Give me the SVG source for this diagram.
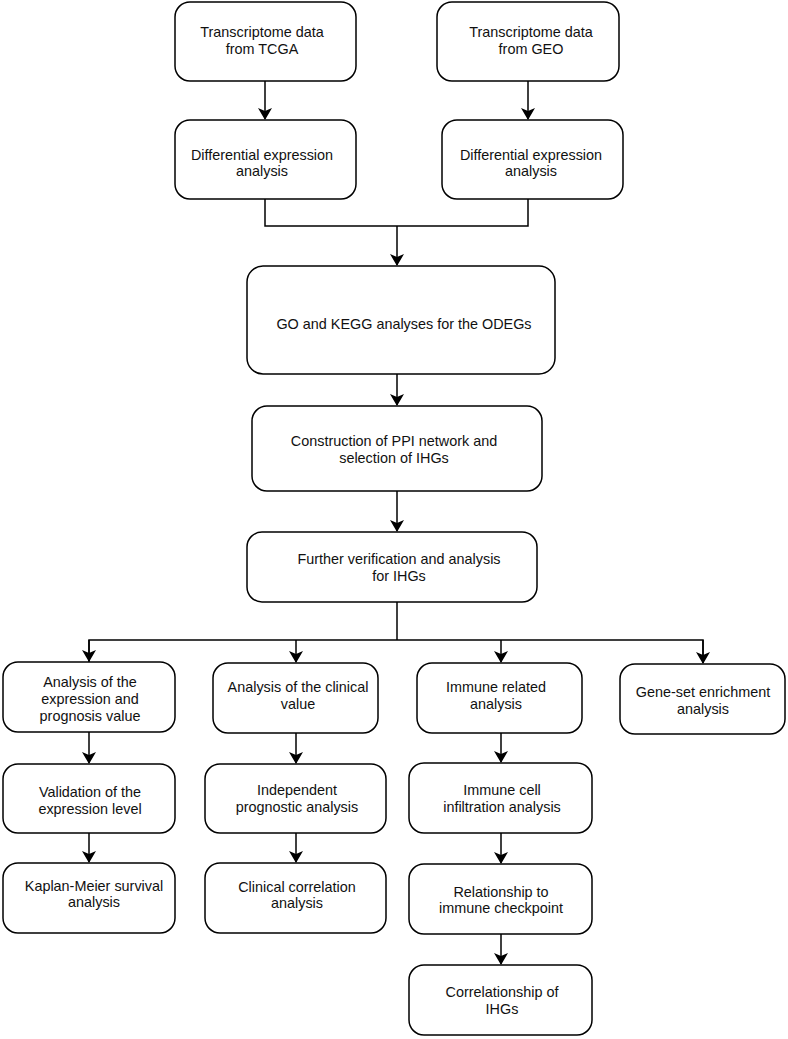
<svg xmlns="http://www.w3.org/2000/svg" width="788" height="1039" viewBox="0 0 788 1039">
<defs>
<style>
rect{fill:#fff;stroke:#000;stroke-width:1.5}
text{font-family:"Liberation Sans",Arial,sans-serif;font-size:14.4px;fill:#111;text-anchor:middle}
.c{fill:none;stroke:#000;stroke-width:1.5}
</style>
<marker id="ah" markerWidth="12" markerHeight="14" refX="11" refY="7" orient="auto" markerUnits="userSpaceOnUse" viewBox="0 0 12 14">
<path d="M0,0 L12,7 L0,14 L3,7 z" fill="#000"/>
</marker>
</defs>
<rect width="788" height="1039" style="fill:#fff;stroke:none"/>
<g id="connectors">
<path class="c" d="M265,81 V119" marker-end="url(#ah)"/>
<path class="c" d="M528,81 V119" marker-end="url(#ah)"/>
<path class="c" d="M265,199 V226 H528 V199"/>
<path class="c" d="M397,226 V265" marker-end="url(#ah)"/>
<path class="c" d="M397,374 V405" marker-end="url(#ah)"/>
<path class="c" d="M397,491 V531" marker-end="url(#ah)"/>
<path class="c" d="M397,602 V640"/>
<path class="c" d="M89,662 V640 H703 V663"/>
<path class="c" d="M89,640 V661" marker-end="url(#ah)"/>
<path class="c" d="M296,640 V662" marker-end="url(#ah)"/>
<path class="c" d="M501,640 V662" marker-end="url(#ah)"/>
<path class="c" d="M703,640 V663" marker-end="url(#ah)"/>
<path class="c" d="M89,732 V763" marker-end="url(#ah)"/>
<path class="c" d="M89,833 V862" marker-end="url(#ah)"/>
<path class="c" d="M296,733 V763" marker-end="url(#ah)"/>
<path class="c" d="M296,833 V862" marker-end="url(#ah)"/>
<path class="c" d="M501,733 V762" marker-end="url(#ah)"/>
<path class="c" d="M501,833 V863" marker-end="url(#ah)"/>
<path class="c" d="M501,934 V964" marker-end="url(#ah)"/>
</g>
<g id="n_tcga"><rect x="175" y="2" width="181" height="79" rx="15"/><text x="262" y="37">Transcriptome data</text><text x="262" y="54">from TCGA</text></g>
<g id="n_geo"><rect x="437" y="2" width="182" height="79" rx="15"/><text x="531" y="37">Transcriptome data</text><text x="531" y="54">from GEO</text></g>
<g id="n_de_tcga"><rect x="175" y="120" width="181" height="79" rx="15"/><text x="262" y="160">Differential expression</text><text x="262" y="176">analysis</text></g>
<g id="n_de_geo"><rect x="442" y="120" width="181" height="79" rx="15"/><text x="531" y="160">Differential expression</text><text x="531" y="176">analysis</text></g>
<g id="n_go"><rect x="247" y="266" width="308" height="108" rx="16"/><text x="404" y="329">GO and KEGG analyses for the ODEGs</text></g>
<g id="n_ppi"><rect x="252" y="406" width="290" height="85" rx="15"/><text x="394" y="446">Construction of PPI network and</text><text x="394" y="463">selection of IHGs</text></g>
<g id="n_further"><rect x="247" y="532" width="290" height="70" rx="15"/><text x="399" y="564">Further verification and analysis</text><text x="399" y="581">for IHGs</text></g>
<g id="n_expr"><rect x="3" y="662" width="172" height="70" rx="15"/><text x="90" y="687">Analysis of the</text><text x="90" y="704">expression and</text><text x="90" y="721">prognosis value</text></g>
<g id="n_clin"><rect x="213" y="663" width="165" height="70" rx="15"/><text x="298" y="692">Analysis of the clinical</text><text x="298" y="709">value</text></g>
<g id="n_immune"><rect x="417" y="663" width="165" height="70" rx="15"/><text x="496" y="692">Immune related</text><text x="496" y="709">analysis</text></g>
<g id="n_gsea"><rect x="620" y="664" width="165" height="70" rx="15"/><text x="703" y="697">Gene-set enrichment</text><text x="703" y="714">analysis</text></g>
<g id="n_valid"><rect x="3" y="764" width="172" height="69" rx="15"/><text x="90" y="797">Validation of the</text><text x="90" y="814">expression level</text></g>
<g id="n_indep"><rect x="205" y="764" width="181" height="69" rx="15"/><text x="297" y="795">Independent</text><text x="297" y="812">prognostic analysis</text></g>
<g id="n_infil"><rect x="409" y="763" width="183" height="70" rx="15"/><text x="502" y="795">Immune cell</text><text x="502" y="812">infiltration analysis</text></g>
<g id="n_km"><rect x="3" y="863" width="172" height="70" rx="15"/><text x="94" y="891">Kaplan-Meier survival</text><text x="94" y="907">analysis</text></g>
<g id="n_clincorr"><rect x="205" y="863" width="181" height="70" rx="15"/><text x="297" y="892">Clinical correlation</text><text x="297" y="908">analysis</text></g>
<g id="n_checkpoint"><rect x="409" y="864" width="183" height="70" rx="15"/><text x="501" y="897">Relationship to</text><text x="501" y="913">immune checkpoint</text></g>
<g id="n_corr"><rect x="409" y="965" width="183" height="70" rx="15"/><text x="502" y="997">Correlationship of</text><text x="502" y="1014">IHGs</text></g>
</svg>
